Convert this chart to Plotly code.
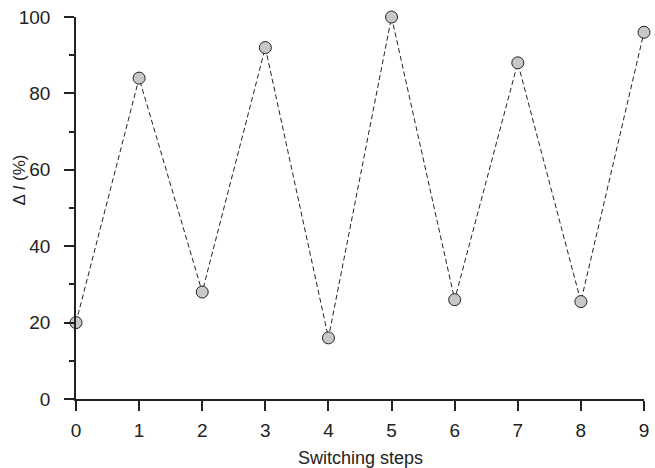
import plotly.graph_objects as go

steps = [0, 1, 2, 3, 4, 5, 6, 7, 8, 9]
delta_i = [20, 84, 28, 92, 16, 100, 26, 88, 25.5, 96]
y_major = [0, 20, 40, 60, 80, 100]
y_minor = [10, 30, 50, 70, 90]

INK = "#222222"
FAMILY = "Liberation Sans, Arial, sans-serif"

fig = go.Figure()
fig.add_trace(go.Scatter(
    x=steps, y=delta_i, mode="lines+markers",
    line=dict(color=INK, width=1, dash="5px,3px"),
    marker=dict(size=12, color="#c8c8c8", line=dict(color=INK, width=1)),
    cliponaxis=False, showlegend=False,
))

fig.update_layout(
    width=655, height=468,
    margin=dict(l=76, r=6, t=17, b=69),
    plot_bgcolor="white", paper_bgcolor="white",
    font=dict(family=FAMILY, size=18, color=INK),
)
fig.update_xaxes(
    range=[0, 9], tickvals=steps, ticks="outside", ticklen=10, tickwidth=1.5,
    tickcolor=INK, showline=True, linecolor=INK, linewidth=1.5,
    showgrid=False, zeroline=False, ticklabelstandoff=3,
    tickfont=dict(family=FAMILY, size=19, color=INK),
)
fig.update_yaxes(
    range=[0, 100], tickvals=y_major, ticks="outside",
    ticklen=10, tickwidth=1.5, tickcolor=INK, showline=True,
    linecolor=INK, linewidth=1.5, showgrid=False, zeroline=False,
    ticklabelstandoff=10,
    tickfont=dict(family=FAMILY, size=19, color=INK),
    minor=dict(ticks="outside", ticklen=5, tickwidth=1.5, tickcolor=INK,
               tickvals=y_minor, showgrid=False),
)

# axis titles
fig.add_annotation(
    text="Switching steps", xref="paper", yref="paper",
    x=0.5, y=-59 / 382, xanchor="center", yanchor="middle",
    showarrow=False, font=dict(size=18, color=INK),
)
fig.add_annotation(
    text="Δ <i>I</i> (%)", xref="paper", yref="paper",
    x=-58 / 573, y=219 / 382, xanchor="center", yanchor="middle",
    textangle=-90, showarrow=False, font=dict(size=17, color=INK),
)
fig.write_html("out.html")
